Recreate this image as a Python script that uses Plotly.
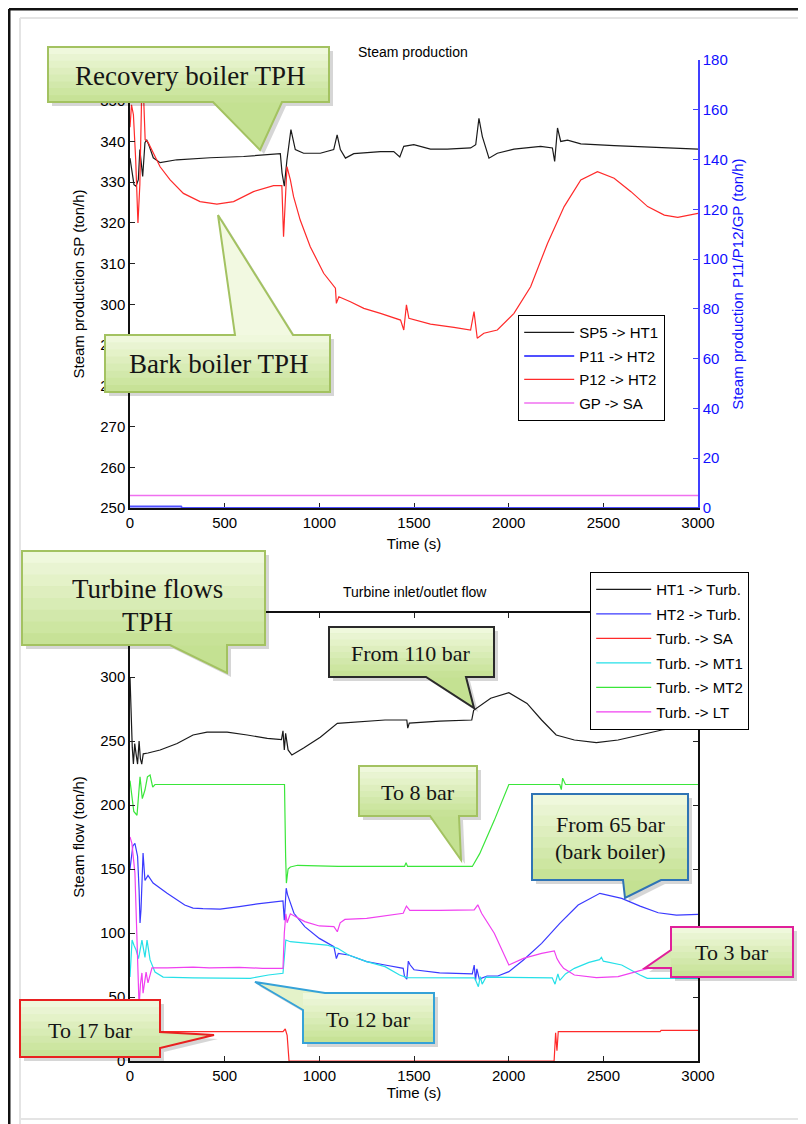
import plotly.graph_objects as go

# ---------------- data (time in s, flows in ton/h) ----------------
tick_vals_time = [0, 500, 1000, 1500, 2000, 2500, 3000]
tick_vals_flow = [0, 50, 100, 150, 200, 250, 300]

# Top chart: Steam production
t_sp5 = [0, 9, 21, 32, 44, 52, 60, 67, 79, 88, 102, 123, 159, 247, 423, 600, 794, 803, 815, 829,
         850, 873, 917, 1005, 1076, 1094, 1111, 1138, 1182, 1323, 1393, 1425, 1446, 1499, 1587, 1676,
         1799, 1826, 1843, 1861, 1896, 1940, 2028, 2169, 2231, 2243, 2258, 2275, 2311, 2381, 2557, 2734, 3000]
sp5 = [335.9, 333, 329.4, 329, 330.6, 338, 334, 331.4, 339.7, 340.4, 338.8, 336, 334.8, 335.5, 336, 336.3,
       337, 332.3, 329, 335.5, 342.9, 338, 337.1, 337.1, 338, 341.6, 338, 335.9, 337, 337.5, 337.5, 336.2,
       338.8, 339.2, 338.1, 338.1, 338.4, 339.2, 345.7, 341.2, 335.9, 337.1, 338.1, 338.8, 338.4, 335.1,
       343.3, 340, 340.3, 339.4, 339, 338.6, 338.1]

t_p11 = [0, 270, 275, 3000]
p11 = [0.6, 0.6, 0, 0]

t_p12 = [0, 8, 18, 30, 42, 52, 60, 66, 72, 80, 95, 123, 159, 212, 282, 370, 459, 547, 652, 758,
         802, 811, 820, 829, 847, 864, 899, 952, 1023, 1085, 1090, 1103, 1164, 1235, 1323, 1429, 1446,
         1460, 1473, 1587, 1711, 1799, 1817, 1834, 1869, 1940, 2028, 2116, 2205, 2293, 2381, 2469, 2557,
         2646, 2734, 2822, 2893, 3000]
p12 = [153, 162, 158, 140, 114.5, 130, 160, 185, 165, 148, 147, 142.6, 137.1, 131.8, 126.4, 123.1, 122.1,
       123.1, 127.1, 129.5, 129.5, 109, 125, 137.1, 131.8, 125.1, 115.7, 105, 94.3, 88.3, 82.2, 84.9, 82.9,
       80.2, 78.2, 75.5, 71.5, 81.6, 76.2, 73.9, 72.6, 71.5, 78.9, 68.2, 70.2, 71.5, 78.2, 88.9, 106.3,
       121.1, 131.8, 135.1, 132.5, 127.1, 121.1, 117.7, 116.8, 118.4]

t_gp = [0, 3000]
gp = [5, 5]

# Bottom chart: Turbine inlet/outlet flow
t_ht1 = [0, 5, 12, 18, 25, 32, 40, 48, 55, 62, 70, 95, 159, 249, 333, 407, 513, 619, 725, 800, 808, 815,
         822, 835, 855, 917, 1005, 1095, 1193, 1347, 1462, 1467, 1475, 1635, 1805, 1815, 1905, 2001, 2097,
         2174, 2251, 2347, 2463, 2578, 2694, 2809, 2905, 3000]
ht1 = [300, 268, 245, 232, 248, 240, 232, 250, 236, 232, 240, 240.6, 243, 248, 254.7, 257, 257, 254.7, 252,
       251, 258, 243, 256, 243, 239, 244.5, 253, 263.8, 265, 266.4, 266.4, 260, 264, 265.6, 266.4, 274,
       283.4, 287.8, 279.4, 266.4, 254.7, 250.8, 248.7, 250.8, 254.7, 258.6, 260.7, 259.9]

t_ht2 = [0, 15, 26, 40, 48, 53, 58, 64, 69, 79, 95, 122, 196, 289, 333, 385, 476, 577, 673, 808, 815, 825,
         832, 866, 923, 1000, 1077, 1090, 1100, 1154, 1250, 1347, 1443, 1450, 1462, 1470, 1480, 1500, 1635,
         1808, 1818, 1825, 1832, 1845, 1886, 1943, 2001, 2078, 2174, 2270, 2367, 2482, 2597, 2694, 2790,
         2886, 3000]
ht2 = [150, 168, 170, 160, 133.6, 107.8, 118, 150, 162.5, 141, 145, 139, 131, 121.9, 119.5, 119, 118.7,
       120.6, 122.7, 125, 110, 135, 130, 115.4, 105, 95.8, 89.3, 80, 84, 82.8, 77.6, 75, 72.4, 66, 64, 78,
       75, 71.3, 68.8, 68, 75, 63, 72, 64, 66.4, 66.4, 69.8, 78.9, 91.9, 107.5, 121.9, 131, 127, 121,
       115.8, 114, 114.5]

t_sa = [0, 460, 808, 820, 830, 840, 2240, 2248, 2255, 2262, 2800, 2805, 3000]
sa = [23, 23, 23, 25, 20, 0, 0, 22, 8, 23, 23, 24, 24]

t_mt1 = [0, 11, 22, 32, 45, 63, 79, 90, 106, 132, 175, 333, 635, 731, 808, 823, 847, 962, 1039, 1097,
         1154, 1250, 1347, 1424, 1462, 1820, 1840, 1850, 1860, 1880, 2230, 2245, 2260, 2270, 2300, 2347,
         2424, 2480, 2490, 2500, 2597, 2694, 2732, 3000]
mt1 = [65.6, 94.5, 90, 86.7, 80, 94.5, 81, 94.5, 79, 69.5, 65.6, 65, 64.6, 67.2, 68.5, 94.5, 93.2, 91.9,
       90.6, 88, 82.8, 77.6, 73.7, 67.2, 65.1, 65, 58, 66, 60, 65.5, 65, 60, 68, 63, 68, 72.4, 77, 79.2,
       81, 78, 75, 67.2, 64.6, 64.5]

t_mt2 = [0, 10, 20, 37, 53, 65, 79, 92, 106, 120, 132, 500, 816, 822, 826, 835, 847, 885, 1100, 1450,
         1458, 1466, 1808, 1847, 1924, 2001, 2270, 2278, 2285, 2300, 3000]
mt2 = [219, 205, 195, 192, 222, 205, 211.7, 222, 223.4, 214, 216, 216, 216, 160, 139, 150, 151.6, 152.9,
       152, 152, 155, 152, 152, 162, 188, 216, 216, 212, 221, 216, 216]

t_lt = [0, 10, 26, 37, 42, 48, 55, 63, 69, 77, 85, 95, 116, 196, 333, 420, 577, 700, 808, 815, 823, 830,
        840, 847, 923, 1000, 1077, 1095, 1110, 1135, 1250, 1443, 1460, 1478, 1635, 1818, 1837, 1857, 1924,
        2001, 2078, 2174, 2241, 2255, 2270, 2290, 2347, 2463, 2578, 2694, 2770, 2900, 3000]
lt = [175, 170, 147, 94.5, 63, 42, 60, 68.8, 53, 62, 69.5, 61, 72.7, 72.7, 73.4, 72.7, 73.2, 72.4, 72.4,
      100, 115, 108, 112, 115, 108.9, 105.5, 105, 101, 108, 110.6, 111.5, 115.4, 121, 117.6, 117.6, 118,
      122, 115.4, 99.8, 75, 80.2, 84.1, 86, 80, 76.3, 72.4, 67.2, 65.1, 65.9, 70.6, 73.2, 79, 84]

# ---------------- layout helpers ----------------
# the page body has an 8 px margin, so the figure starts at (8, 8) of the window
OFF = 8
W, H = 806 - OFF, 1124 - OFF


def px(x):
    return (x - OFF) / W


def py(y):
    return 1 - (y - OFF) / H


SANS = "Liberation Sans, Arial, sans-serif"
SERIF = "Liberation Serif, Times New Roman, serif"

fig = go.Figure()


def add_line(x, y, name, color, xa, ya, leg, width=1.2):
    fig.add_trace(go.Scatter(x=x, y=y, name=name, mode="lines",
                             line=dict(color=color, width=width),
                             xaxis=xa, yaxis=ya, legend=leg, legendgroup=name))


add_line(t_sp5, sp5, "SP5 -> HT1", "#1a1a1a", "x", "y", "legend")
add_line(t_p11, p11, "P11 -> HT2", "#5050ff", "x", "y2", "legend", 2)
add_line(t_p12, p12, "P12 -> HT2", "#ff2a2a", "x", "y2", "legend")
add_line(t_gp, gp, "GP -> SA", "#f070f0", "x", "y2", "legend", 1.5)

add_line(t_ht1, ht1, "HT1 -> Turb.", "#1a1a1a", "x2", "y3", "legend2")
add_line(t_ht2, ht2, "HT2 -> Turb.", "#3a3aff", "x2", "y3", "legend2")
add_line(t_sa, sa, "Turb. -> SA", "#ff2a2a", "x2", "y3", "legend2")
add_line(t_mt1, mt1, "Turb. -> MT1", "#25e0e8", "x2", "y3", "legend2")
add_line(t_mt2, mt2, "Turb. -> MT2", "#3ae63a", "x2", "y3", "legend2")
add_line(t_lt, lt, "Turb. -> LT", "#f040f0", "x2", "y3", "legend2")

axis_common = dict(showgrid=False, zeroline=False, ticks="inside", ticklen=5, tickwidth=1,
                   tickcolor="#222", showline=True, linecolor="#111", linewidth=1.5,
                   automargin=False, tickfont=dict(family=SANS, size=15, color="black"),
                   title_font=dict(family=SANS, size=15, color="black"))

X0, X1 = 130, 698
fig.update_layout(
    width=W, height=H, margin=dict(l=0, r=0, t=0, b=0),
    paper_bgcolor="white", plot_bgcolor="white",
    font=dict(family=SANS, size=15, color="black"),
    xaxis=dict(axis_common, domain=[px(X0), px(X1)], range=[0, 3000], tickvals=tick_vals_time,
               anchor="y", title=dict(text="Time (s)", standoff=9), layer="below traces"),
    yaxis=dict(axis_common, domain=[py(508), py(60)], range=[250, 360], dtick=10, anchor="x",
               title=dict(text="Steam production SP (ton/h)", standoff=12)),
    yaxis2=dict(axis_common, overlaying="y", side="right", anchor="x", range=[0, 180], dtick=20,
                linecolor="#4040ff", tickcolor="#4040ff",
                tickfont=dict(family=SANS, size=15, color="#1010ff"),
                title=dict(text="Steam production P11/P12/GP (ton/h)", standoff=6,
                           font=dict(family=SANS, size=15, color="#1010ff"))),
    xaxis2=dict(axis_common, domain=[px(X0), px(X1)], range=[0, 3000], tickvals=tick_vals_time,
                anchor="y3", mirror="ticks", title=dict(text="Time (s)", standoff=5)),
    yaxis3=dict(axis_common, domain=[py(1061), py(613)], range=[0, 350], tickvals=tick_vals_flow,
                anchor="x2", mirror="ticks", title=dict(text="Steam flow (ton/h)", standoff=12)),
    legend=dict(x=px(518), y=py(315), xanchor="left", yanchor="top", bgcolor="white",
                bordercolor="black", borderwidth=1.2, font=dict(family=SANS, size=15),
                tracegroupgap=1, itemwidth=50),
    legend2=dict(x=px(590), y=py(572), xanchor="left", yanchor="top", bgcolor="white",
                 bordercolor="black", borderwidth=1.2, font=dict(family=SANS, size=15),
                 tracegroupgap=2, itemwidth=55),
)

shapes = []
annotations = []

# outer frame of the screenshot
shapes.append(dict(type="line", xref="paper", yref="paper", x0=px(9), y0=py(9), x1=px(806), y1=py(9),
                   line=dict(color="#111", width=3)))
shapes.append(dict(type="line", xref="paper", yref="paper", x0=px(9), y0=py(9), x1=px(9), y1=py(1124),
                   line=dict(color="#111", width=3)))
shapes.append(dict(type="line", xref="paper", yref="paper", x0=px(20), y0=py(18), x1=px(806), y1=py(18),
                   line=dict(color="#e4e4e4", width=2)))
shapes.append(dict(type="line", xref="paper", yref="paper", x0=px(20), y0=py(18), x1=px(20), y1=py(1124),
                   line=dict(color="#e4e4e4", width=2)))
shapes.append(dict(type="line", xref="paper", yref="paper", x0=px(20), y0=py(1119), x1=px(806), y1=py(1119),
                   line=dict(color="#e4e4e4", width=2)))

TOP = (242, 249, 225)
BOT = (196, 225, 146)


def mix(f):
    return "rgb(%d,%d,%d)" % tuple(round(a + (b - a) * f) for a, b in zip(TOP, BOT))


def path_of(points):
    return "M " + " L ".join(f"{px(x):.5f},{py(y):.5f}" for x, y in points) + " Z"


def add_callout(outline, box, border, tail_f):
    shapes.append(dict(type="path", xref="paper", yref="paper", layer="above",
                       path=path_of([(x + 4, y + 4) for x, y in outline]),
                       fillcolor="rgba(0,0,0,0.16)", line=dict(width=0)))
    shapes.append(dict(type="path", xref="paper", yref="paper", layer="above",
                       path=path_of(outline), fillcolor=mix(tail_f), line=dict(width=0)))
    x0, y0, x1, y1 = box
    n = 8
    for i in range(n):
        ya = y0 + (y1 - y0) * i / n
        yb = y0 + (y1 - y0) * (i + 1) / n + 0.6
        shapes.append(dict(type="rect", xref="paper", yref="paper", layer="above",
                           x0=px(x0), x1=px(x1), y0=py(yb), y1=py(ya),
                           fillcolor=mix((i + 0.5) / n), line=dict(width=0)))
    shapes.append(dict(type="path", xref="paper", yref="paper", layer="above",
                       path=path_of(outline), fillcolor="rgba(0,0,0,0)",
                       line=dict(color=border, width=2)))


def add_text(x, y, text, size):
    annotations.append(dict(xref="paper", yref="paper", x=px(x), y=py(y), text=text, showarrow=False,
                            xanchor="center", yanchor="middle",
                            font=dict(family=SERIF, size=size, color="#151515")))


GREEN = "#a3c261"

# Recovery boiler TPH
add_callout([(48, 47), (329, 47), (329, 102), (282, 102), (260, 150), (213, 102), (48, 102)],
            (48, 47, 329, 102), GREEN, 1.0)
add_text(190, 76, "Recovery boiler TPH", 27)
# Bark boiler TPH
add_callout([(105, 335), (235, 335), (218, 215), (293, 335), (330, 335), (330, 392), (105, 392)],
            (105, 335, 330, 392), GREEN, 0.0)
add_text(218, 364, "Bark boiler TPH", 27)
# Turbine flows TPH
add_callout([(22, 551), (265, 551), (265, 645), (227, 645), (227, 673), (170, 645), (22, 645)],
            (22, 551, 265, 645), GREEN, 1.0)
add_text(147, 589, "Turbine flows", 27)
add_text(147, 622, "TPH", 27)
# From 110 bar
add_callout([(329, 627), (494, 627), (494, 677), (466, 677), (474, 708), (426, 677), (329, 677)],
            (329, 627, 494, 677), "#2a2a2a", 1.0)
add_text(411, 653, "From 110 bar", 22)
# To 8 bar
add_callout([(359, 766), (477, 766), (477, 816), (459, 816), (461, 860), (430, 816), (359, 816)],
            (359, 766, 477, 816), GREEN, 1.0)
add_text(418, 792, "To 8 bar", 22)
# From 65 bar (bark boiler)
add_callout([(532, 794), (688, 794), (688, 880), (661, 880), (625, 898), (623, 880), (532, 880)],
            (532, 794, 688, 880), "#2f74b5", 1.0)
add_text(610, 824, "From 65 bar", 22)
add_text(610, 851, "(bark boiler)", 22)
# To 12 bar
add_callout([(303, 1010), (255, 982), (325, 993), (434, 993), (434, 1043), (303, 1043)],
            (303, 993, 434, 1043), "#35a2d8", 0.3)
add_text(368, 1019, "To 12 bar", 22)
# To 17 bar
add_callout([(20, 1000), (160, 1000), (160, 1032), (214, 1035), (160, 1048), (160, 1057), (20, 1057)],
            (20, 1000, 160, 1057), "#e82020", 0.6)
add_text(90, 1030, "To 17 bar", 22)
# To 3 bar
add_callout([(671, 927), (793, 927), (793, 977), (671, 977), (671, 968), (645, 968), (671, 950)],
            (671, 927, 793, 977), "#e0209a", 0.6)
add_text(732, 952, "To 3 bar", 22)

# chart titles
annotations.append(dict(xref="paper", yref="paper", x=px(413), y=py(42), text="Steam production",
                        showarrow=False, font=dict(family=SANS, size=14, color="black")))
annotations.append(dict(xref="paper", yref="paper", x=px(415), y=py(592), text="Turbine inlet/outlet flow",
                        showarrow=False, font=dict(family=SANS, size=14, color="black")))

fig.update_layout(shapes=shapes, annotations=annotations)
fig.write_html("out.html")
